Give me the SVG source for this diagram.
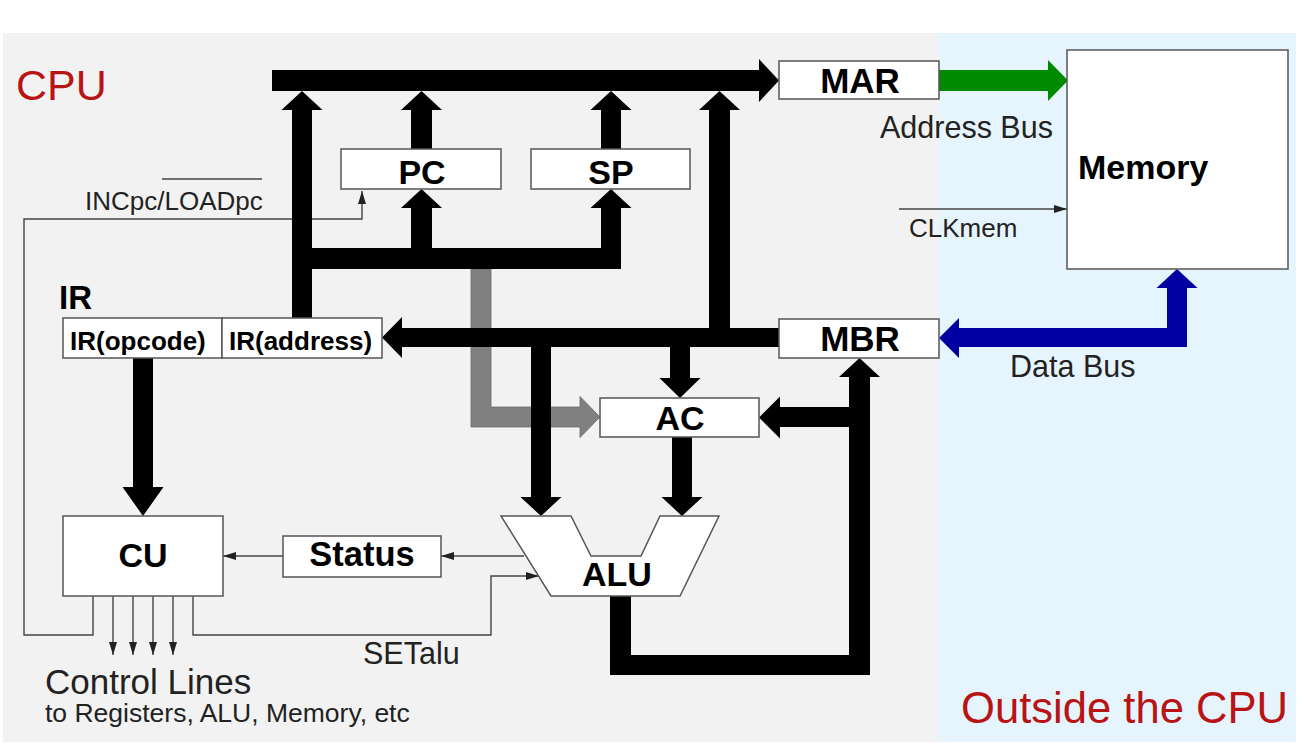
<svg xmlns="http://www.w3.org/2000/svg" width="1304" height="756" viewBox="0 0 1304 756">
<style>
.box{fill:#fff;stroke:#555;stroke-width:1.5}
.bus{fill:#000}
.thin{fill:none;stroke:#444;stroke-width:1.4}
.lbl{font-family:"Liberation Sans",Arial,sans-serif;font-weight:bold;fill:#000}
.txt{font-family:"Liberation Sans",Arial,sans-serif;fill:#222}
.red{font-family:"Liberation Sans",Arial,sans-serif;fill:#b81414}
</style>
<defs>
<marker id="ah" markerUnits="userSpaceOnUse" markerWidth="14" markerHeight="9" refX="13" refY="4" orient="auto">
<path d="M0,0 L13,4 L0,8 z" fill="#222"/>
</marker>
</defs>
<rect x="0" y="0" width="1304" height="756" fill="#fff"/>
<rect x="3" y="33" width="935" height="709" fill="#f2f2f2"/>
<rect x="938" y="33" width="358" height="709" fill="#e6f4fd"/>
<text class="red" x="16" y="100" font-size="43">CPU</text>
<text class="red" x="961" y="723" font-size="43.6">Outside the CPU</text>

<g id="connectors">
<path class="thin" d="M93 596 L93 635 L24 635 L24 219 L362 219 L362 191" marker-end="url(#ah)"/>
<line class="thin" x1="162" y1="179" x2="262" y2="179"/>
<path class="thin" d="M113 596 L113 655" marker-end="url(#ah)"/>
<path class="thin" d="M133 596 L133 655" marker-end="url(#ah)"/>
<path class="thin" d="M153 596 L153 655" marker-end="url(#ah)"/>
<path class="thin" d="M173 596 L173 655" marker-end="url(#ah)"/>
<path class="thin" d="M193 596 L193 635 L491 635 L491 576 L539 576" marker-end="url(#ah)"/>
<path class="thin" d="M524 556 L441 556" marker-end="url(#ah)"/>
<path class="thin" d="M283 556 L223 556" marker-end="url(#ah)"/>
<path class="thin" d="M899 209 L1067 209" marker-end="url(#ah)"/>
<path d="M471 269 L471 427 L580 427 L580 437.5 L600 417 L580 396.5 L580 407 L491 407 L491 269 Z" fill="#808080" stroke="#6a6a6a" stroke-width="0.8"/>
<path d="M939 70 L1048 70 L1048 60 L1068 80.5 L1048 101 L1048 91 L939 91 Z" fill="#008a00"/>
<path d="M939 338 L959 318 L959 328 L1167 328 L1167 288 L1156.5 288 L1177 269 L1197.5 288 L1187 288 L1187 347 L959 347 L959 358 Z" fill="#0000a0"/>
<path class="bus" d="M272 70 L759 70 L759 59 L779 80.5 L759 102 L759 91 L272 91 Z"/>
<path class="bus" d="M292 318 L292 110 L281.5 110 L302 91 L322.5 110 L312 110 L312 318 Z"/>
<path class="bus" d="M411 149 L411 110 L401 110 L421.5 91 L442 110 L432 110 L432 149 Z"/>
<path class="bus" d="M601 149 L601 110 L590.5 110 L611 91 L631.5 110 L621 110 L621 149 Z"/>
<path class="bus" d="M709 332 L709 110 L699 110 L719.5 91 L740 110 L730 110 L730 332 Z"/>
<rect class="bus" x="310" y="248" width="311" height="21"/>
<path class="bus" d="M411 250 L411 208 L401 208 L421.5 189 L442 208 L432 208 L432 250 Z"/>
<path class="bus" d="M601 269 L601 208 L590.5 208 L611 189 L631.5 208 L621 208 L621 269 Z"/>
<path class="bus" d="M779 328 L402 328 L402 317 L382 337.5 L402 358 L402 347 L779 347 Z"/>
<path class="bus" d="M531 345 L531 497 L520.5 497 L541 516 L561.5 497 L551 497 L551 345 Z"/>
<path class="bus" d="M670 345 L670 378 L659.5 378 L680 398 L700.5 378 L690 378 L690 345 Z"/>
<path class="bus" d="M672 437 L672 497 L661.5 497 L682 516 L702.5 497 L692 497 L692 437 Z"/>
<path class="bus" d="M133 358 L133 487 L122.5 487 L143 516 L163.5 487 L153 487 L153 358 Z"/>
<path class="bus" d="M610 596 L610 675 L870 675 L870 377 L880 377 L859.5 358 L839 377 L849 377 L849 407 L780 407 L780 396.5 L759 417.5 L780 438.5 L780 427 L849 427 L849 655 L631 655 L631 596 Z"/>
</g>

<g id="MAR"><rect class="box" x="779" y="61" width="160" height="38"/><text class="lbl" x="860" y="93" font-size="35" text-anchor="middle">MAR</text></g>
<g id="MBR"><rect class="box" x="779" y="319" width="160" height="39"/><text class="lbl" x="860" y="351" font-size="35" text-anchor="middle">MBR</text></g>
<g id="PC"><rect class="box" x="341" y="149" width="160" height="40"/><text class="lbl" x="422" y="184" font-size="34" text-anchor="middle">PC</text></g>
<g id="SP"><rect class="box" x="531" y="149" width="159" height="40"/><text class="lbl" x="611" y="184" font-size="34" text-anchor="middle">SP</text></g>
<g id="Memory"><rect class="box" x="1067" y="50" width="221" height="219"/><text class="lbl" x="1078" y="179" font-size="34">Memory</text></g>
<g id="IR">
<text class="lbl" x="59" y="309" font-size="33">IR</text>
<rect class="box" x="63" y="318" width="159" height="40"/>
<rect class="box" x="222" y="318" width="160" height="40"/>
<text class="lbl" x="70" y="350" font-size="26">IR(opcode)</text>
<text class="lbl" x="229" y="350" font-size="26">IR(address)</text>
</g>
<g id="AC"><rect class="box" x="600" y="398" width="159" height="39"/><text class="lbl" x="680" y="430" font-size="34" text-anchor="middle">AC</text></g>
<g id="ALU"><path class="box" d="M501 516 L571 516 L591 556 L641 556 L660 516 L719 516 L680 596 L551 596 Z"/><text class="lbl" x="617" y="586" font-size="34" text-anchor="middle">ALU</text></g>
<g id="CU"><rect class="box" x="63" y="516" width="160" height="80"/><text class="lbl" x="143" y="567" font-size="34" text-anchor="middle">CU</text></g>
<g id="Status"><rect class="box" x="283" y="536" width="158" height="41"/><text class="lbl" x="362" y="566" font-size="34.5" text-anchor="middle">Status</text></g>

<g id="labels">
<text class="txt" x="85" y="210" font-size="26">INCpc/LOADpc</text>
<text class="txt" x="880" y="138" font-size="30.5">Address Bus</text>
<text class="txt" x="909" y="237" font-size="26">CLKmem</text>
<text class="txt" x="1010" y="377" font-size="30.5">Data Bus</text>
<text class="txt" x="363" y="664" font-size="30.5">SETalu</text>
<text class="txt" x="45" y="694" font-size="35">Control Lines</text>
<text class="txt" x="45" y="722" font-size="26.5">to Registers, ALU, Memory, etc</text>
</g>
</svg>
